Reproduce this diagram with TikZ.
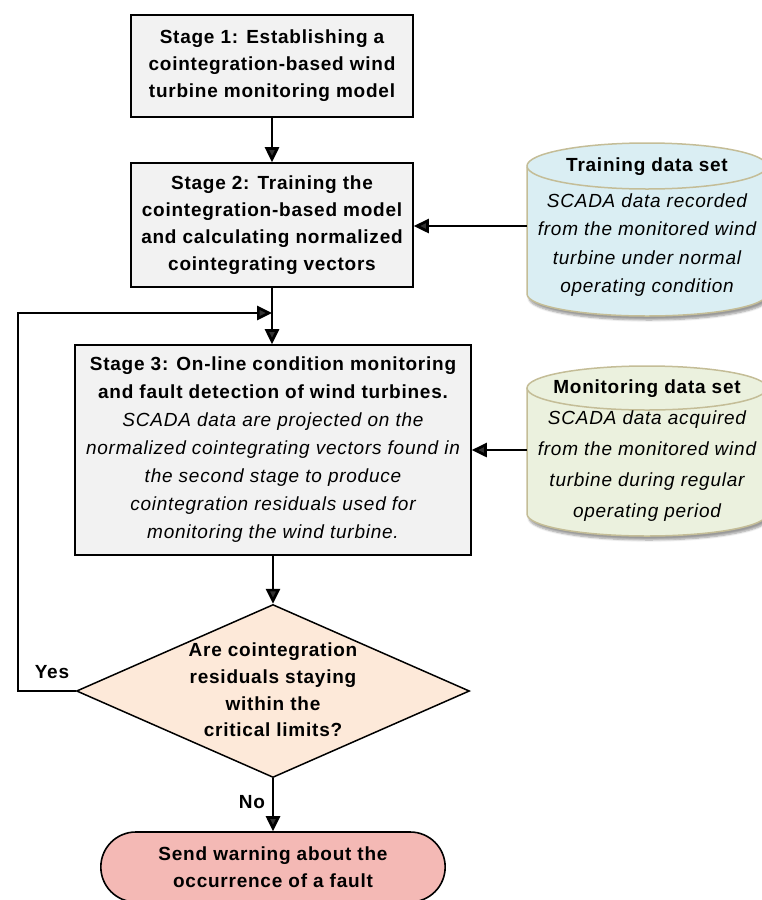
\documentclass[tikz,border=0pt]{standalone}
\usepackage{fontspec}
\setmainfont{Liberation Sans}[LetterSpace=4]
\usetikzlibrary{positioning,shapes.geometric,shapes.misc,arrows.meta,shadows.blur}

\definecolor{stagegray}{HTML}{F2F2F2}
\definecolor{trainblue}{HTML}{DAEEF3}
\definecolor{monigreen}{HTML}{EBF1DE}
\definecolor{cylborder}{HTML}{C4BD97}
\definecolor{decpeach}{HTML}{FDE9D9}
\definecolor{warnpink}{HTML}{F4B9B5}

\tikzset{
  stagebox/.style={draw, line width=1.6pt, fill=stagegray, align=center, inner sep=0pt,
    font=\bfseries\fontsize{19}{27}\selectfont},
  flow/.style={line width=2.7pt, -{Triangle[length=15pt,width=14pt]}},
  cylhead/.style={font=\bfseries\fontsize{19}{21}\selectfont},
  cyltext/.style={align=center, font=\itshape\fontsize{19}{28.5}\selectfont},
  cylline/.style={draw=cylborder, line width=1.5pt},
  answer/.style={font=\bfseries\fontsize{19}{21}\selectfont},
}

\begin{document}
\begin{tikzpicture}[x=1pt, y=-1pt]
    \useasboundingbox (0,0) rectangle (761,900);

    % Stages
    \node[stagebox, minimum width=282pt, minimum height=102pt] (s1) at (272,66)
        {Stage 1: Establishing a\\cointegration-based wind\\turbine monitoring model};
    \node[stagebox, minimum width=282pt, minimum height=124pt] (s2) at (272,225)
        {Stage 2: Training the\\cointegration-based model\\and calculating normalized\\cointegrating vectors};
    \node[stagebox, minimum width=396pt, minimum height=210pt,
          font=\bfseries\fontsize{19}{28}\selectfont] (s3) at (273,450)
        {Stage 3: On-line condition monitoring\\and fault detection of wind turbines.\\
         \mdseries\itshape SCADA data are projected on the\\
         \mdseries\itshape normalized cointegrating vectors found in\\
         \mdseries\itshape the second stage to produce\\
         \mdseries\itshape cointegration residuals used for\\
         \mdseries\itshape monitoring the wind turbine.};

    % Decision
    \node[diamond, draw, line width=1.5pt, fill=decpeach, inner sep=0pt,
          minimum width=393pt, minimum height=173pt] (dec) at (273,691) {};
    \node[align=center, font=\bfseries\fontsize{19}{26.7}\selectfont] (dectext) at (273,690)
        {Are cointegration\\residuals staying\\within the\\critical limits?};

    % Warning
    \node[rounded rectangle, draw, line width=1.6pt, fill=warnpink, align=center,
          minimum width=351pt, minimum height=70pt,
          font=\bfseries\fontsize{19}{27}\selectfont] (warn) at (273,867)
        {Send warning about the\\occurrence of a fault};

    % Training data set
    \path[fill=white, blur shadow={shadow xshift=2pt, shadow yshift=-4pt, shadow blur steps=6}]
        (527,167) -- (527,294) arc[start angle=180, end angle=0, x radius=120, y radius=22] -- (767,167) -- cycle;
    \draw[cylline, fill=trainblue]
        (527,167) -- (527,294) arc[start angle=180, end angle=0, x radius=120, y radius=22] -- (767,167);
    \draw[cylline, fill=trainblue] (647,166) ellipse[x radius=120, y radius=23];
    \node[cylhead] (trainhead) at (647,167) {Training data set};
    \node[cyltext] (traintext) at (647,245)
        {SCADA data recorded\\from the monitored wind\\turbine under normal\\operating condition};

    % Monitoring data set
    \path[fill=white, blur shadow={shadow xshift=2pt, shadow yshift=-4pt, shadow blur steps=6}]
        (527,388) -- (527,514) arc[start angle=180, end angle=0, x radius=120, y radius=22] -- (767,388) -- cycle;
    \draw[cylline, fill=monigreen]
        (527,388) -- (527,514) arc[start angle=180, end angle=0, x radius=120, y radius=22] -- (767,388);
    \draw[cylline, fill=monigreen] (647,388) ellipse[x radius=120, y radius=22];
    \node[cylhead] (monihead) at (647,389) {Monitoring data set};
    \node[cyltext, font=\itshape\fontsize{19}{31}\selectfont] (monitext) at (647,466)
        {SCADA data acquired\\from the monitored wind\\turbine during regular\\operating period};

    % Connectors
    \coordinate (train) at (527,226);
    \coordinate (moni) at (527,450);
    \coordinate (join) at (272,313);
    \coordinate (loop) at (18,313);
    \draw[flow] (s1) -- (s2);
    \draw[line width=2.7pt] (s2.south) -- (join);
    \draw[flow] (join) -- (s3.north -| join);
    \draw[flow] (train) -- (train -| s2.east);
    \draw[flow] (moni) -- (moni -| s3.east);
    \draw[flow] (s3.south -| dec.north) -- (dec.north);
    \draw[flow] (dec.west) -| (loop) -- (join);
    \draw[flow] (dec.south) -- (warn.north);

    % Answers
    \node[answer] (yes) at (52,672) {Yes};
    \node[answer] (no) at (252,802) {No};
\end{tikzpicture}
\end{document}
